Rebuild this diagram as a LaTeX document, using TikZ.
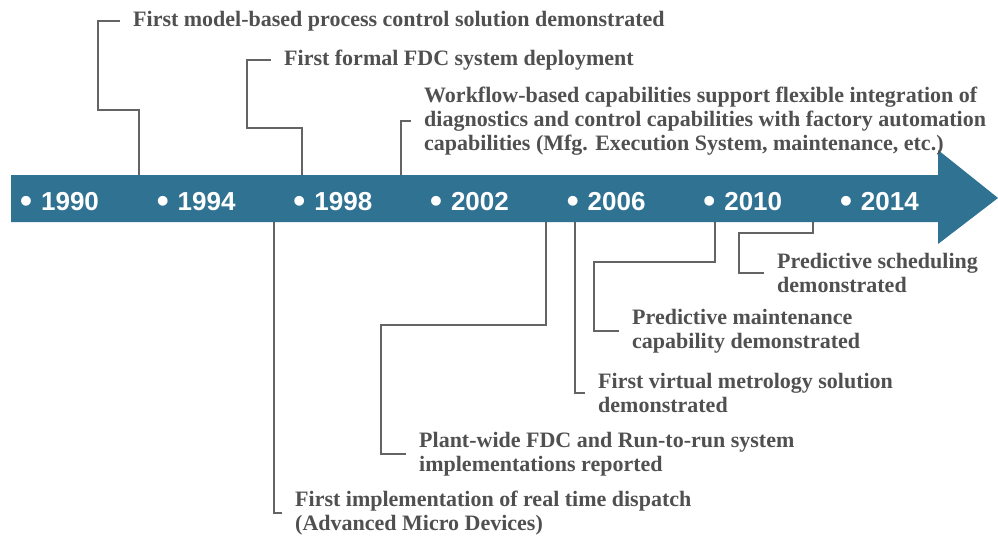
\documentclass[tikz,border=0pt]{standalone}
\usepackage{fontspec}
\setmainfont{Liberation Serif}
\setsansfont{Liberation Sans}
\usepackage{tikz}
\usetikzlibrary{positioning}
\definecolor{bandblue}{RGB}{47,114,146}
\definecolor{txtgray}{RGB}{80,80,80}
\definecolor{linegray}{RGB}{100,100,100}
\newcommand\yrdot{\raisebox{-2pt}{\fontsize{34}{30}\selectfont\textbullet}\hspace{9pt}}

\begin{document}
\begin{tikzpicture}[x=1pt,y=-1pt,node distance=3mm and 57.5pt,inner sep=0pt]
\tikzstyle{yr}=[anchor=west, text=white, font=\sffamily\bfseries\fontsize{26}{30}\selectfont]
\tikzstyle{event}=[anchor=west, inner xsep=13pt, align=left, text=txtgray, font=\bfseries\fontsize{22}{24}\selectfont]
\tikzstyle{conn}=[draw=linegray, line width=1.3pt]
\useasboundingbox (0,0) rectangle (998,539);
% the timeline arrow
\fill[bandblue] (11,175) -- (938,175) -- (938,150) -- (998,198) -- (938,244) -- (938,222) -- (11,222) -- cycle;
% years
\node[yr] (y1990) at (20,202) {\yrdot 1990};
\node[yr] (y1994) [right=of y1990] {\yrdot 1994};
\node[yr] (y1998) [right=of y1994] {\yrdot 1998};
\node[yr] (y2002) [right=of y1998] {\yrdot 2002};
\node[yr] (y2006) [right=of y2002] {\yrdot 2006};
\node[yr] (y2010) [right=of y2006] {\yrdot 2010};
\node[yr] (y2014) [right=of y2010] {\yrdot 2014};
% points on the band
\coordinate (t1) at (139,175);
\coordinate (t2) at (302,175);
\coordinate (t3) at (401,175);
\coordinate (b1) at (274,222);
\coordinate (b2) at (546,222);
\coordinate (b3) at (575,222);
\coordinate (b4) at (715,222);
\coordinate (b5) at (813,222);
% events above
\node[event] (mpc) at (120,21) {First model-based process control solution demonstrated};
\node[event] (fdc) at (271,60) {First formal FDC system deployment};
\node[event] (wfl) at (411,121) {Workflow-based capabilities support flexible integration of\\diagnostics and control capabilities with factory automation\\capabilities (Mfg. Execution System, maintenance, etc.)};
% events below
\node[event] (rtd) at (282,513) {First implementation of real time dispatch\\(Advanced Micro Devices)};
\node[event] (r2r) at (406,454) {Plant-wide FDC and Run-to-run system\\implementations reported};
\node[event] (vm) at (585,393) {First virtual metrology solution\\demonstrated};
\node[event] (pm) at (619,331) {Predictive maintenance\\capability demonstrated};
\node[event] (ps) at (764,273) {Predictive scheduling\\demonstrated};
% connectors
\path[conn] (t1) |- (98,110) |- (mpc.west);
\path[conn] (t2) |- (247,128) |- (fdc.west);
\path[conn] (t3) |- (wfl.west);
\path[conn] (b1) |- (rtd.west);
\path[conn] (b2) |- (381,325) |- (r2r.west);
\path[conn] (b3) |- (vm.west);
\path[conn] (b4) |- (594,262) |- (pm.west);
\path[conn] (b5) |- (739,233) |- (ps.west);
\end{tikzpicture}
\end{document}
